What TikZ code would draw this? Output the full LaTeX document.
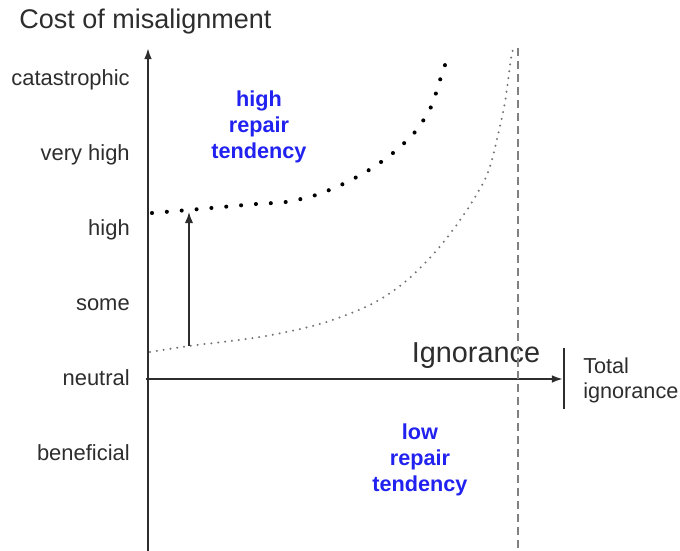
\documentclass[tikz,border=0pt]{standalone}
\usepackage{fontspec}
\setmainfont{Liberation Sans}
\usetikzlibrary{arrows.meta}
\definecolor{tendblue}{RGB}{34,34,240}
\definecolor{inkgray}{RGB}{45,45,45}

\begin{document}
\begin{tikzpicture}[x=0.025cm, y=-0.025cm,
    level/.style={anchor=base east, inner sep=0pt, text=inkgray, font=\fontsize{15.6}{18}\selectfont},
    tendency/.style={align=center, inner sep=0pt, text=tendblue, font=\fontsize{15.4}{18.4}\selectfont\bfseries},
    axis/.style={line width=1.3pt, inkgray, -{Latex[length=8pt,width=5.5pt]}}]

    \useasboundingbox (0,0) rectangle (680,551);

    % ==========================================
    % Axes
    % ==========================================
    \coordinate (ybottom) at (148,551);
    \coordinate (ytop) at (148,48);
    \coordinate (xleft) at (146,379);
    \coordinate (xright) at (563,379);
    \draw[axis] (ybottom) -- (ytop);
    \draw[axis] (xleft) -- (xright);

    \node[anchor=west, inner sep=0pt, text=inkgray, font=\fontsize{19.2}{22}\selectfont] (title) at (19,22) {Cost of misalignment};
    \node[inner sep=0pt, text=inkgray, font=\fontsize{20.5}{24}\selectfont] (ignorance) at (476,356) {Ignorance};

    % Levels of cost
    \foreach \name/\txt/\yy in {cat/catastrophic/86, vhigh/very high/161, high/high/236,
                                some/some/311, neutral/neutral/386, ben/beneficial/461}
        \node[level] (\name) at (130,\yy) {\txt};

    % Total ignorance marker
    \coordinate (tottop) at (564,348);
    \coordinate (totbot) at (564,409);
    \draw[line width=1pt, inkgray] (tottop) -- (totbot);
    \node[anchor=west, align=left, inner sep=0pt, text=inkgray, font=\fontsize{15.4}{17.7}\selectfont] (total) at (583,380) {Total\\ignorance};

    % ==========================================
    % Limit of total ignorance (dashed)
    % ==========================================
    \coordinate (limtop) at (518,48);
    \coordinate (limbot) at (518,551);
    \draw[gray, line width=1pt, dash pattern=on 5.7pt off 3.5pt] (limtop) -- (limbot);

    % ==========================================
    % Cost curves
    % ==========================================
    % Low repair curve (thin dots)
    \draw[black!55, line width=1.6pt, line cap=round, dash pattern=on 0pt off 4.9pt]
        plot[smooth] coordinates {(150,352) (189,346) (260,337) (320,324) (370,305) (405,282)
        (437,250) (465,213) (487,175) (497,139) (505,102) (511,58) (513,50)};

    % High repair curve (bold dots)
    \draw[black, line width=2.9pt, line cap=round, dash pattern=on 0pt off 10.6pt]
        plot[smooth] coordinates {(152,213) (200,209) (256,204) (286,202) (316,195) (343,184)
        (369,170) (393,153) (415,132) (431,107) (440,80) (446,62)};

    % Shift caused by repair
    \coordinate (repstart) at (189,346);
    \coordinate (repend) at (189,212);
    \draw[line width=1pt, inkgray, -{Latex[length=8pt,width=6pt]}] (repstart) -- (repend);

    % Regions
    \node[tendency] (hirep) at (259,127) {high\\repair\\tendency};
    \node[tendency] (lorep) at (420,460) {low\\repair\\tendency};

\end{tikzpicture}
\end{document}
